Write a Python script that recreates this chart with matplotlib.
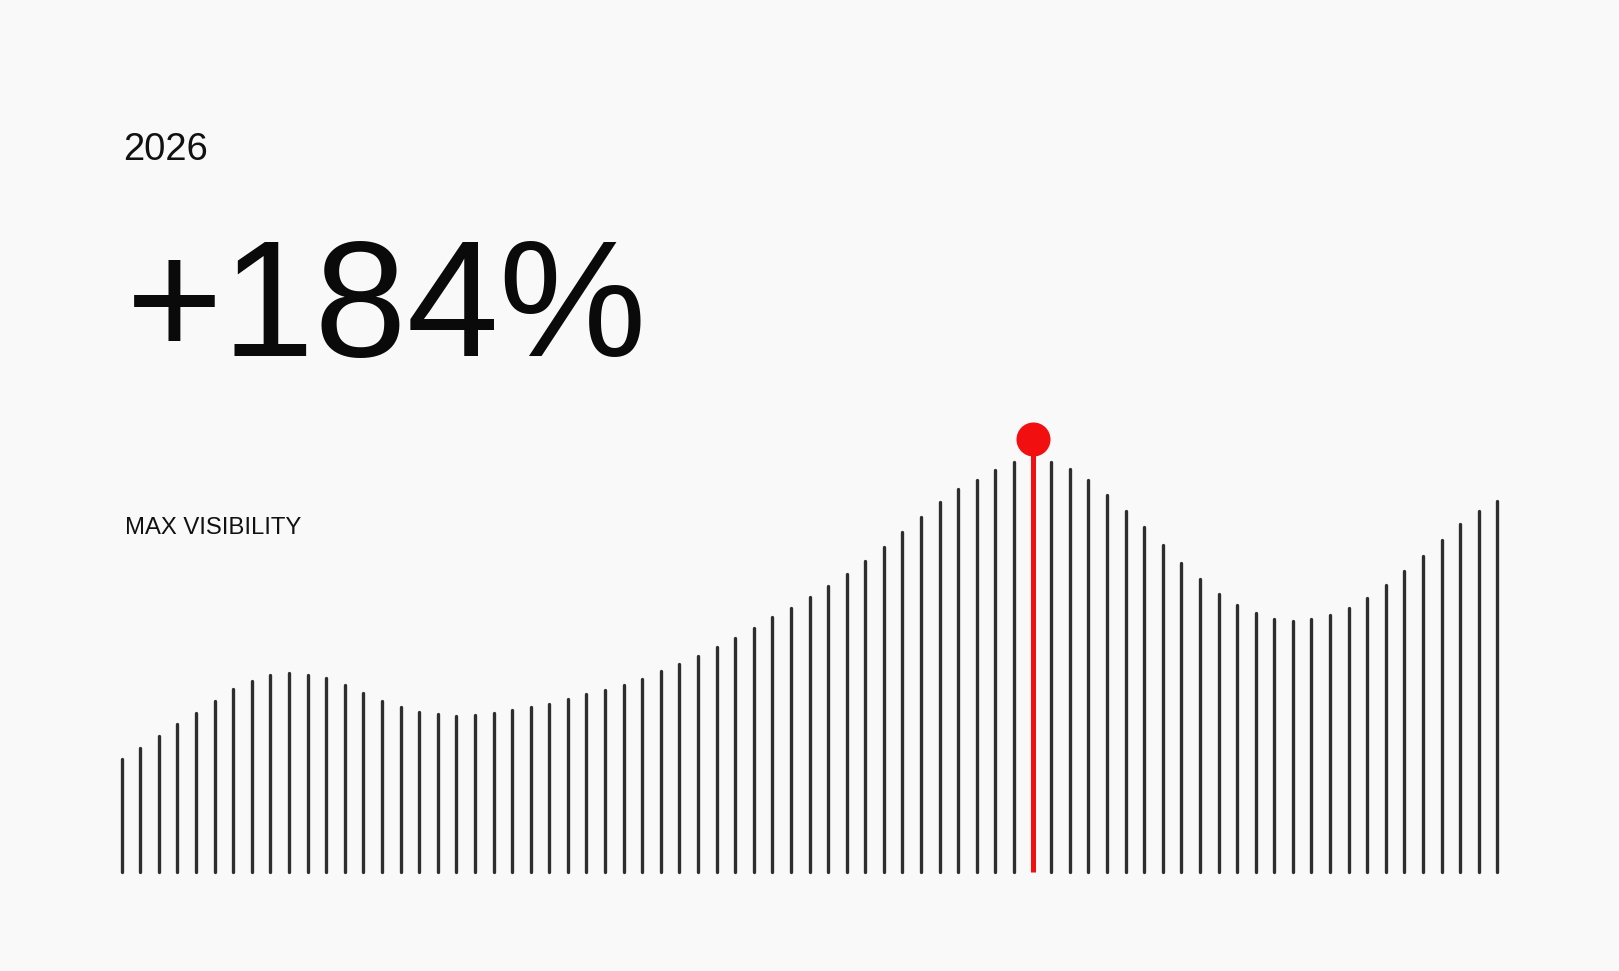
import matplotlib.pyplot as plt
import numpy as np

# visibility index per step (75 bars), peak highlighted in red
visibility = [113, 124, 136, 148, 159, 171, 183, 191, 197, 199,
              197, 194, 187, 179, 171, 165, 160, 158, 156, 157,
              159, 162, 165, 168, 173, 178, 182, 187, 193, 201,
              208, 216, 225, 234, 244, 255, 264, 275, 286, 298,
              311, 325, 340, 355, 370, 383, 392, 402, 410, 433,
              410, 403, 392, 377, 361, 345, 327, 309, 293, 278,
              267, 259, 253, 251, 253, 257, 264, 274, 287, 301,
              316, 332, 348, 361, 371]
peak_idx = 49
year_label = "2026"
headline = "+184%"
metric_label = "MAX VISIBILITY"

bg = "#f9f9f9"
bar_color = "#2e2e2e"
red = "#f20f0f"
font = ["Liberation Sans", "DejaVu Sans"]

fig = plt.figure(figsize=(16.19, 9.71), dpi=100)
fig.patch.set_facecolor(bg)
ax = fig.add_axes([0, 0, 1, 1])
ax.set_facecolor(bg)

x = np.arange(len(visibility))
vals = np.array(visibility)
grey = x != peak_idx

lc = ax.vlines(x[grey], 0, vals[grey], color=bar_color, linewidth=2.4)
lc.set_capstyle("round")
rc = ax.vlines([peak_idx], 0, [vals[peak_idx]], color=red, linewidth=3.6)
rc.set_capstyle("butt")
ax.plot([peak_idx], [vals[peak_idx]], "o", color=red, markersize=24.5,
        markeredgewidth=0)

# index -> pixel 121.7 + 18.59*i, baseline 872px from the top
ax.set_xlim(-121.7 / 18.59, (1619 - 121.7) / 18.59)
ax.set_ylim(-99, 872)
ax.axis("off")

W, H = 1619.0, 971.0
fig.text(123 / W, 1 - 160 / H, year_label, fontsize=27.5, family=font,
         color="#111111", ha="left", va="baseline")
fig.text(126 / W, 1 - 356 / H, headline, fontsize=119.5, family=font,
         color="#0a0a0a", ha="left", va="baseline")
fig.text(125 / W, 1 - 534 / H, metric_label, fontsize=17.2, family=font,
         color="#111111", ha="left", va="baseline")

fig.savefig("out.png", dpi=100, facecolor=bg)
